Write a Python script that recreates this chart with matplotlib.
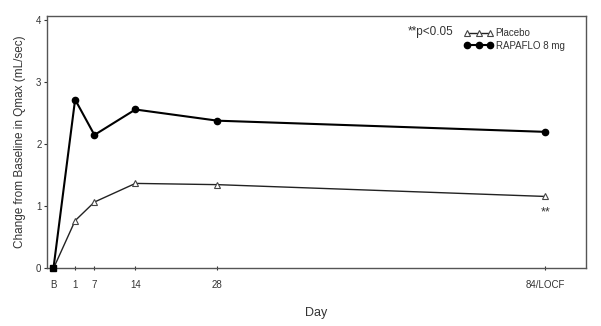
import matplotlib
matplotlib.use("Agg")
import matplotlib.pyplot as plt

plt.rcParams['font.family'] = ['Liberation Sans', 'DejaVu Sans']

tick_labels = ["B", "1", "7", "14", "28", "84/LOCF"]
x_pos = [0, 3.7, 7, 14, 28, 84]
placebo = [0, 0.77, 1.07, 1.37, 1.35, 1.16]
rapaflo = [0, 2.72, 2.15, 2.56, 2.38, 2.20]

fig = plt.figure(figsize=(6.01, 3.26), dpi=100)
ax = fig.add_axes([0.0782, 0.1764, 0.8963, 0.7754])

ax.plot(x_pos, rapaflo, color='black', lw=1.5, marker='o', ms=4.5,
        markevery=list(range(1, len(x_pos))), label='RAPAFLO 8 mg', zorder=3)
ax.plot(x_pos, placebo, color='#222222', lw=1.0, marker='^', ms=4,
        mfc='white', mec='#444444', mew=0.8,
        markevery=list(range(1, len(x_pos))), label='Placebo', zorder=3)
ax.plot(x_pos[:1], rapaflo[:1], ls='none', marker='s', ms=4.5, color='black',
        zorder=4, clip_on=False)

ax.text(x_pos[-1], placebo[-1] - 0.25, "**", ha='center', va='center',
        fontsize=9, color='#333333')

ax.set_xlim(-1.1, 90.9)
ax.set_ylim(0, 4.07)
ax.set_xticks(x_pos)
ax.set_xticklabels(tick_labels)
ax.set_yticks([0, 1, 2, 3, 4])
ax.tick_params(axis='x', direction='inout', length=3, width=0.8, labelsize=7,
               colors='#333333', pad=7)
ax.tick_params(axis='y', direction='out', length=2, width=0.8, labelsize=7,
               colors='#333333', pad=2)
for s in ax.spines.values():
    s.set_color('#555555')
    s.set_linewidth(1.0)

ax.set_xlabel("Day", fontsize=9, color='#333333', labelpad=12)
ax.set_ylabel("Change from Baseline in Qmax (mL/sec)", fontsize=8.5,
              color='#333333', labelpad=7)

h, l = ax.get_legend_handles_labels()
leg = ax.legend([h[1], h[0]], [l[1], l[0]], numpoints=3, frameon=False,
                fontsize=7, loc='upper left', bbox_to_anchor=(0.767, 0.965),
                handlelength=3.0, handletextpad=0.25, labelspacing=0.25,
                borderaxespad=0)
for t in leg.get_texts():
    t.set_color('#333333')
ax.text(0.67, 0.935, "**p<0.05", transform=ax.transAxes, fontsize=8.5,
        color='#333333', va='center', ha='left')

fig.savefig("out.png", dpi=100)
